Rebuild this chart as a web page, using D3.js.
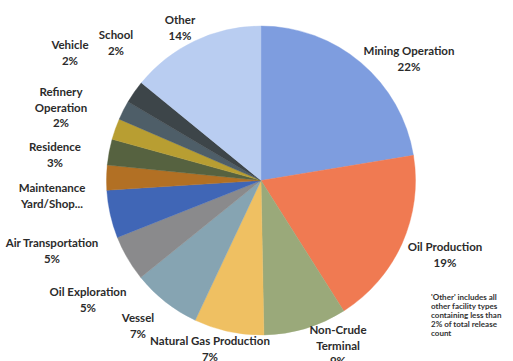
<!DOCTYPE html>
<html>
<head>
<meta charset="utf-8">
<script src="https://cdn.jsdelivr.net/npm/d3@7/dist/d3.min.js"></script>
<style>
  html, body { margin: 0; padding: 0; background: #fff; }
  svg { display: block; }
  .lbl { font-family: Lato, "Open Sans", sans-serif; font-weight: 700; font-size: 11.5px; fill: #2b2b2b; }
  .note { font-family: Lato, "Open Sans", sans-serif; font-weight: 700; font-size: 8px; fill: #333; }
</style>
</head>
<body>
<svg id="chart" width="513" height="361"></svg>
<script>
// Release count share by facility type (percent of total)
const categories = [
  "Mining Operation", "Oil Production", "Non-Crude Terminal", "Natural Gas Production",
  "Vessel", "Oil Exploration", "Air Transportation", "Maintenance Yard/Shop",
  "Residence", "Refinery Operation", "Vehicle", "School", "Other"
];
const shares = [22.4, 18.6, 8.7, 7.3, 7.2, 4.8, 5.0, 2.6, 2.7, 2.2, 2.0, 2.4, 14.1];
const sliceColors = [
  "#7e9ddf", "#f07a52", "#9aa97a", "#efc062", "#86a4b2", "#8a8a8c", "#4066b6",
  "#b27024", "#566240", "#b89e32", "#4e5e68", "#3d4549", "#b9cdf1"
];
// Label text lines; "{p}" is replaced by the slice's rounded percentage
const labelLines = [
  ["Mining Operation", "{p}"],
  ["Oil Production", "{p}"],
  ["Non-Crude", "Terminal", "{p}"],
  ["Natural Gas Production", "{p}"],
  ["Vessel", "{p}"],
  ["Oil Exploration", "{p}"],
  ["Air Transportation", "{p}"],
  ["Maintenance", "Yard/Shop..."],
  ["Residence", "{p}"],
  ["Refinery", "Operation", "{p}"],
  ["Vehicle", "{p}"],
  ["School", "{p}"],
  ["Other", "{p}"]
];
const noteLines = [
  "'Other' includes all",
  "other facility types",
  "containing less than",
  "2% of total release",
  "count"
];

// Layout
const cx = 261, cy = 180.5, radius = 154.5;
// Label centre of first line, in px, per slice
const labelAnchors = [
  [409, 55], [445, 251], [338, 334], [210, 345], [138, 322], [88, 296],
  [52, 247], [52, 192], [55, 151], [61, 96], [70, 49], [116, 39], [180, 24]
];
const lineStep = 15.5;

const svg = d3.select("#chart");
const g = svg.append("g").attr("transform", `translate(${cx},${cy})`);

const pie = d3.pie().sort(null).value(d => d);
const arc = d3.arc().innerRadius(0).outerRadius(radius);
const arcs = pie(shares);

g.selectAll("path.slice")
  .data(arcs)
  .join("path")
  .attr("class", "slice")
  .attr("d", arc)
  .attr("fill", (d, i) => sliceColors[i])
  .attr("stroke", (d, i) => sliceColors[i])
  .attr("stroke-width", 0.4);

const total = d3.sum(shares);
const labels = svg.selectAll("text.lbl")
  .data(categories)
  .join("text")
  .attr("class", "lbl")
  .attr("text-anchor", "middle")
  .attr("x", (d, i) => labelAnchors[i][0])
  .attr("y", (d, i) => labelAnchors[i][1]);

labels.each(function (d, i) {
  const pct = Math.round(shares[i] / total * 100) + "%";
  d3.select(this).selectAll("tspan")
    .data(labelLines[i].map(s => s.replace("{p}", pct)))
    .join("tspan")
    .attr("x", labelAnchors[i][0])
    .attr("dy", (s, k) => k === 0 ? 0 : lineStep)
    .text(s => s);
});

svg.append("text")
  .attr("class", "note")
  .attr("x", 431)
  .attr("y", 300)
  .selectAll("tspan")
  .data(noteLines)
  .join("tspan")
  .attr("x", 431)
  .attr("dy", (s, k) => k === 0 ? 0 : 9.1)
  .text(s => s);
</script>
</body>
</html>
